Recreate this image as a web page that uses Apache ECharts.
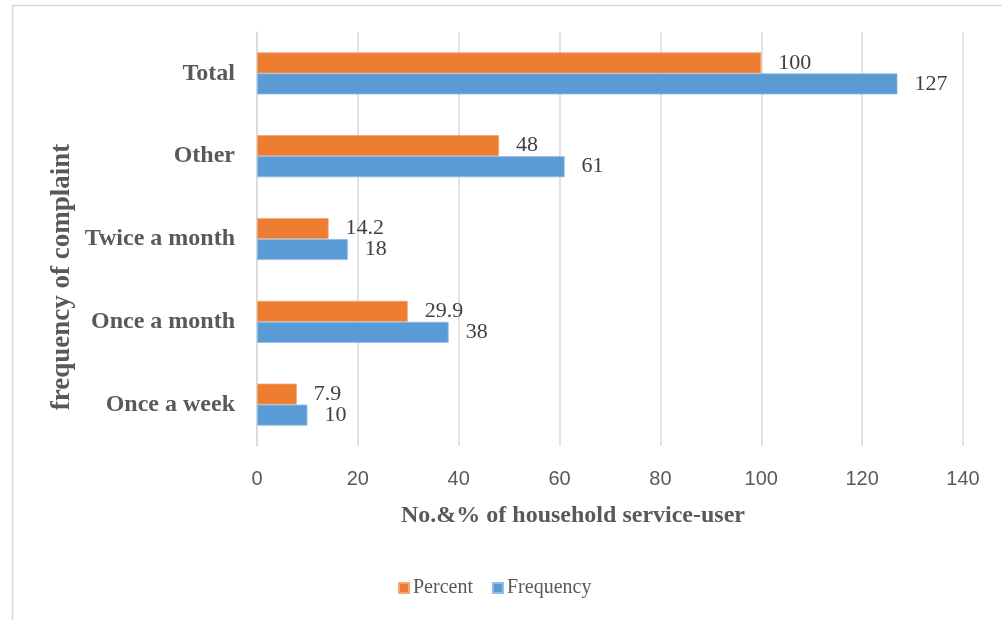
<!DOCTYPE html>
<html>
<head>
<meta charset="utf-8">
<script src="https://cdn.jsdelivr.net/npm/echarts@6/dist/echarts.min.js"></script>
<style>
  html, body { margin: 0; padding: 0; background: #fff; }
  #chart { width: 1002px; height: 620px; }
</style>
</head>
<body>
<div id="chart"></div>
<script>
// Complaint frequency categories, listed bottom to top
const categories = ['Once a week', 'Once a month', 'Twice a month', 'Other', 'Total'];
const percentValues = [7.9, 29.9, 14.2, 48, 100];
const frequencyValues = [10, 38, 18, 61, 127];
const xTicks = { min: 0, max: 140, interval: 20 };

const serif = '"Liberation Serif", "Times New Roman", serif';
const sans = '"Liberation Sans", Arial, sans-serif';
const gridColor = '#d9d9d9';

const chart = echarts.init(document.getElementById('chart'));

const valueLabel = {
  show: true,
  position: 'right',
  distance: 17,
  fontFamily: serif,
  fontSize: 22,
  color: '#404040'
};

chart.setOption({
  animation: false,
  grid: { left: 257, right: 39, top: 32, bottom: 174, containLabel: false },
  legend: {
    data: ['Percent', 'Frequency'],
    left: 393,
    top: 573,
    itemWidth: 10,
    itemHeight: 10,
    itemGap: 19,
    icon: 'rect',
    textStyle: { fontFamily: serif, fontSize: 20, color: '#595959', padding: [0, 0, 0, -1] }
  },
  xAxis: {
    type: 'value',
    min: xTicks.min,
    max: xTicks.max,
    interval: xTicks.interval,
    axisLine: { show: false },
    axisTick: { show: false },
    axisLabel: { fontFamily: sans, fontSize: 20, color: '#595959', margin: 23 },
    splitLine: { show: true, lineStyle: { color: gridColor, width: 1.5 } }
  },
  yAxis: {
    type: 'category',
    data: categories,
    axisLine: { show: true, lineStyle: { color: gridColor, width: 1.5 } },
    axisTick: { show: false },
    axisLabel: { fontFamily: serif, fontWeight: 'bold', fontSize: 24, color: '#595959', margin: 22 }
  },
  series: [
    {
      name: 'Percent',
      type: 'bar',
      data: percentValues,
      barWidth: 21,
      barGap: '0%',
      itemStyle: { color: '#ED7D31', borderColor: '#f3a877', borderWidth: 0.8 },
      label: valueLabel
    },
    {
      name: 'Frequency',
      type: 'bar',
      data: frequencyValues,
      barWidth: 21,
      barGap: '0%',
      itemStyle: { color: '#5B9BD5', borderColor: '#8fbbe6', borderWidth: 0.8 },
      label: valueLabel
    }
  ],
  graphic: [
    {
      type: 'rect',
      left: 10,
      top: 3,
      shape: { width: 1000, height: 630 },
      style: { fill: 'none', stroke: '#d9d9d9', lineWidth: 1.5 },
      silent: true
    },
    {
      type: 'text',
      x: 62,
      y: 277,
      rotation: Math.PI / 2,
      style: {
        text: 'frequency of complaint',
        font: 'bold 27px ' + serif,
        fill: '#595959',
        align: 'center',
        verticalAlign: 'middle'
      }
    },
    {
      type: 'text',
      x: 573,
      y: 516,
      style: {
        text: 'No.&% of household service-user',
        font: 'bold 24px ' + serif,
        fill: '#595959',
        align: 'center',
        verticalAlign: 'middle'
      }
    }
  ]
});
</script>
</body>
</html>
